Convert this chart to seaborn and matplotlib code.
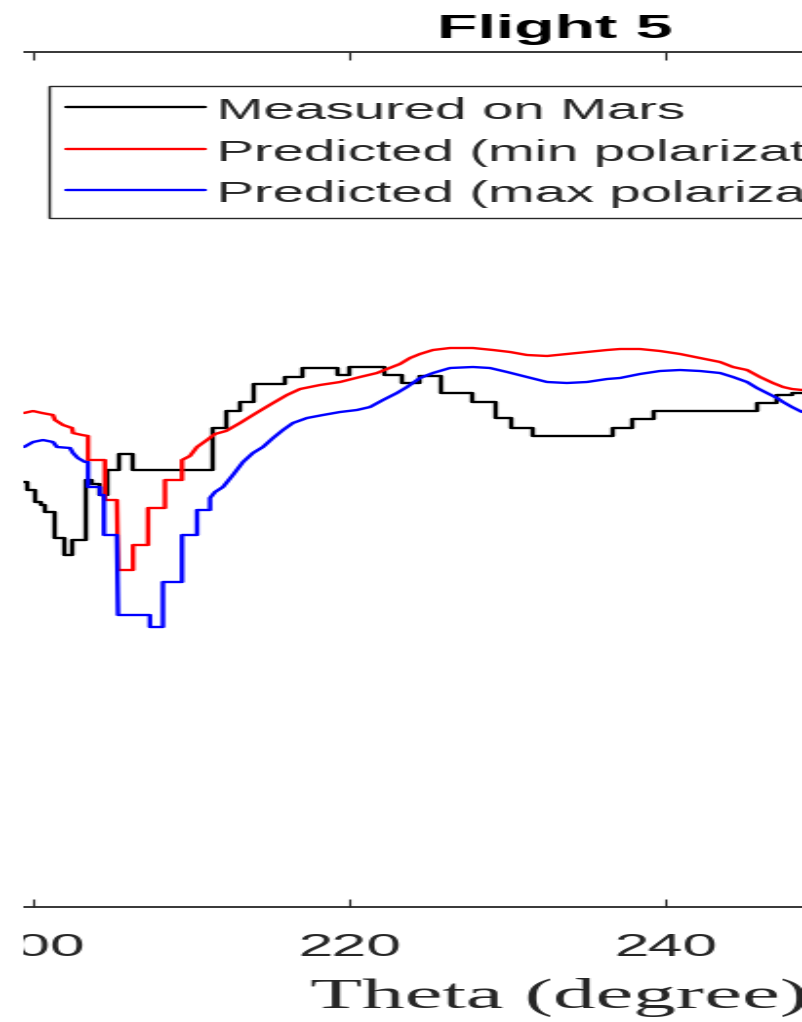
import numpy as np
import pandas as pd
import matplotlib
matplotlib.use("Agg")
import matplotlib.pyplot as plt
from matplotlib.patches import Rectangle
import seaborn as sns

# Flight 5: scan angle (degree) against sky brightness (arbitrary units)
measured_theta = [199.37, 199.62, 200.06, 200.38, 200.70, 201.33, 201.96, 202.47, 203.23,
                  203.67, 204.18, 204.62, 205.44, 206.27, 211.33, 212.15, 213.04, 213.86,
                  215.89, 216.96, 219.18, 220.00, 222.22, 223.35, 224.37, 225.70, 227.78,
                  229.18, 230.25, 231.58, 236.65, 237.91, 239.18, 245.82, 247.03, 247.97,
                  249.00]
measured_value = [42.5, 41.7, 40.5, 40.2, 39.5, 36.9, 35.2, 36.7, 42.7,
                  42.3, 41.2, 43.7, 45.3, 43.7, 47.9, 49.6, 50.5, 52.3,
                  53.0, 53.9, 53.2, 54.0, 53.2, 52.4, 53.1, 51.4, 50.5,
                  48.9, 47.9, 47.1, 47.9, 48.8, 49.6, 50.4, 51.2, 51.4,
                  51.4]

min_pol_theta = [199.37, 199.94, 200.51, 201.20, 201.33, 201.84, 202.41, 202.47, 203.04,
                 203.42, 203.42, 204.49, 204.49, 205.25, 205.32, 206.27, 206.27, 207.22,
                 207.22, 208.29, 208.29, 209.37, 209.37, 209.87, 210.32, 210.95, 211.46,
                 212.15, 213.04, 213.86, 214.49, 215.13, 216.01, 216.84, 218.10, 219.37,
                 220.63, 221.71, 222.34, 223.16, 223.80, 224.43, 225.25, 226.33, 227.78,
                 229.05, 230.13, 231.20, 232.47, 233.73, 235.00, 236.27, 237.09, 238.35,
                 239.62, 240.89, 242.15, 243.42, 244.24, 245.13, 245.95, 246.77, 247.41,
                 247.97, 248.61]
min_pol_value = [49.4, 49.6, 49.4, 49.2, 48.7, 48.2, 47.9, 47.4, 47.2,
                 47.1, 44.7, 44.7, 40.7, 40.7, 33.7, 33.7, 36.2, 36.2,
                 39.9, 39.9, 42.7, 42.7, 44.7, 45.1, 46.0, 46.7, 47.3,
                 47.6, 48.4, 49.2, 49.8, 50.4, 51.2, 51.8, 52.2, 52.5,
                 53.0, 53.4, 53.8, 54.3, 54.9, 55.3, 55.7, 55.9, 55.9,
                 55.7, 55.5, 55.2, 55.1, 55.3, 55.5, 55.7, 55.8, 55.8,
                 55.6, 55.3, 54.9, 54.5, 54.0, 53.7, 53.0, 52.4, 52.0,
                 51.8, 51.7]

max_pol_theta = [199.37, 199.94, 200.57, 201.20, 201.46, 202.28, 202.47, 202.78, 203.23,
                 203.42, 203.42, 204.18, 204.18, 204.43, 204.43, 205.25, 205.32, 207.34,
                 207.34, 208.16, 208.16, 209.37, 209.37, 210.32, 210.32, 211.14, 211.14,
                 211.46, 211.96, 212.59, 213.23, 213.86, 214.49, 215.13, 215.76, 216.39,
                 217.28, 218.29, 219.37, 220.44, 221.27, 222.09, 222.97, 223.61, 224.43,
                 225.25, 226.33, 227.78, 228.86, 229.94, 231.20, 232.47, 233.73, 235.00,
                 236.27, 237.09, 238.35, 239.62, 240.89, 242.15, 243.42, 244.24, 245.13,
                 245.76, 246.39, 247.03, 247.41, 247.97, 248.61]
max_pol_value = [46.0, 46.5, 46.7, 46.5, 46.0, 45.9, 45.4, 44.9, 44.5,
                 44.5, 42.0, 42.0, 41.2, 41.2, 37.2, 37.2, 29.2, 29.2,
                 28.0, 28.0, 32.5, 32.5, 37.2, 37.2, 39.7, 39.7, 40.9,
                 41.5, 42.0, 43.2, 44.5, 45.4, 46.0, 46.9, 47.7, 48.4,
                 48.9, 49.2, 49.5, 49.7, 50.0, 50.7, 51.4, 52.0, 52.9,
                 53.4, 53.9, 54.0, 53.9, 53.5, 53.0, 52.5, 52.4, 52.5,
                 52.8, 52.9, 53.3, 53.6, 53.7, 53.6, 53.4, 53.0, 52.5,
                 51.9, 51.4, 50.9, 50.5, 50.0, 49.5]

x_ticks = [200, 220, 240, 260]
series_labels = ["Measured on Mars", "Predicted (min polarization)",
                 "Predicted (max polarization)"]
series_colors = ["#000000", "#ff0000", "#0000ff"]

frames = [
    pd.DataFrame({"theta": measured_theta, "value": measured_value, "series": series_labels[0]}),
    pd.DataFrame({"theta": min_pol_theta, "value": min_pol_value, "series": series_labels[1]}),
    pd.DataFrame({"theta": max_pol_theta, "value": max_pol_value, "series": series_labels[2]}),
]
df = pd.concat(frames, ignore_index=True)

sns.set_theme(style="white")
plt.rcParams["font.family"] = ["Liberation Sans", "DejaVu Sans"]

# Drawn on a narrow canvas, then widened to the final 802 px width
OUT_W, OUT_H = 802, 1022
STRETCH = 1.95
nat_w = round(OUT_W / STRETCH)

fig = plt.figure(figsize=(nat_w / 100, OUT_H / 100), dpi=100)
fig.patch.set_facecolor("white")
ax = fig.add_axes([-124 / 802, 115 / 1022, 1358.8 / 802, 855 / 1022])

ink = "#262626"
for lab, col in zip(series_labels, series_colors):
    sub = df[df["series"] == lab]
    style = {"drawstyle": "steps-post"} if lab == series_labels[0] else {}
    sns.lineplot(data=sub, x="theta", y="value", color=col, label=lab, lw=1.7,
                 estimator=None, sort=False, errorbar=None, ax=ax, **style)

ax.set_xlim(190, 276)
ax.set_ylim(0, 85.5)
ax.set_xticks(x_ticks)
ax.set_xticklabels([str(t) for t in x_ticks])
ax.tick_params(axis="x", which="both", direction="in", top=True, bottom=True,
               length=5.8, width=0.8, color=ink, labelcolor=ink, labelsize=23, pad=19.0)
ax.tick_params(axis="y", left=False, right=False, labelleft=False)
ax.set_ylabel("")
for side, sp in ax.spines.items():
    sp.set_color(ink)
    sp.set_linewidth(1.3)

ax.set_title("Flight 5", fontsize=24.5, fontweight="bold", color="black", pad=10)
ax.set_xlabel("Theta (degree)", fontsize=31.3, family=["Liberation Serif", "DejaVu Serif"],
              color=ink)
ax.xaxis.set_label_coords(0.503, -0.083)

leg = ax.legend(loc="upper left", bbox_to_anchor=(48 / 802, 1 - 86 / 1022),
                bbox_transform=fig.transFigure, borderaxespad=0, frameon=True,
                fancybox=False, framealpha=1, edgecolor=ink,
                prop={"family": "Liberation Sans", "size": 20.7},
                handlelength=2.48, handleheight=1.09, handletextpad=0.18,
                borderpad=0.33, labelspacing=0.42)
leg.get_frame().set_linewidth(1.0)

# blank strip along the left edge
fig.add_artist(Rectangle((0, 0), 24 / 802, 1, transform=fig.transFigure,
                         facecolor="white", edgecolor="none", zorder=10))

fig.savefig("out.png", dpi=100, facecolor="white")

# widen the rendered canvas horizontally to the final size
img = plt.imread("out.png")
h, w = img.shape[:2]
src = (np.arange(OUT_W) + 0.5) * w / OUT_W - 0.5
src = np.clip(src, 0, w - 1)
i0 = np.floor(src).astype(int)
i1 = np.minimum(i0 + 1, w - 1)
f = (src - i0)[None, :, None]
wide = img[:, i0] * (1 - f) + img[:, i1] * f
plt.imsave("out.png", np.clip(wide, 0, 1))
